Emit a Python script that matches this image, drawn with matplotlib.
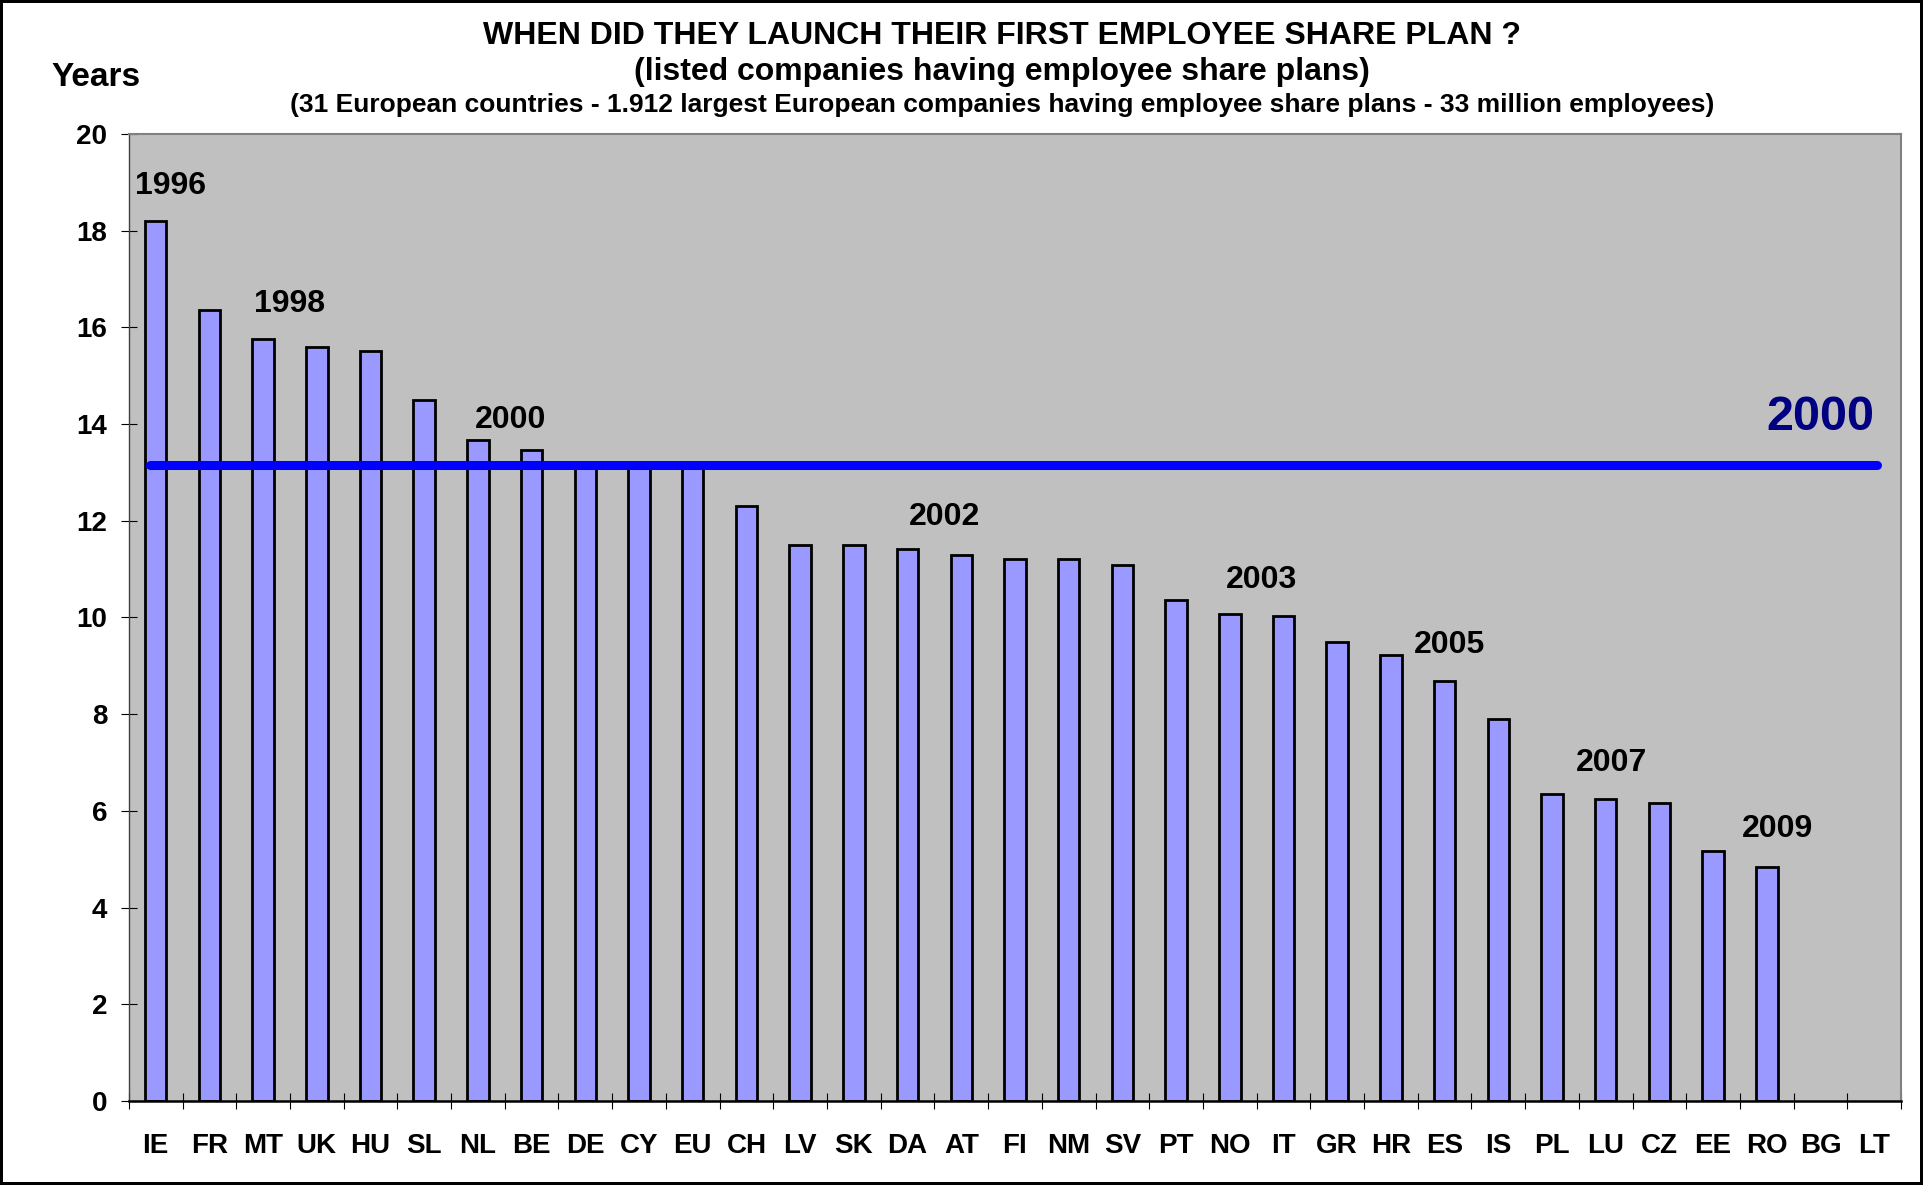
import numpy as np
import matplotlib.pyplot as plt

plt.rcParams['font.family'] = ['Liberation Sans', 'DejaVu Sans']
plt.rcParams['font.weight'] = 'bold'

# data
countries = ['IE', 'FR', 'MT', 'UK', 'HU', 'SL', 'NL', 'BE', 'DE', 'CY', 'EU',
             'CH', 'LV', 'SK', 'DA', 'AT', 'FI', 'NM', 'SV', 'PT', 'NO', 'IT',
             'GR', 'HR', 'ES', 'IS', 'PL', 'LU', 'CZ', 'EE', 'RO', 'BG', 'LT']
years = [18.2, 16.35, 15.75, 15.6, 15.5, 14.5, 13.67, 13.47, 13.2, 13.2, 13.15,
         12.3, 11.5, 11.5, 11.42, 11.3, 11.2, 11.2, 11.08, 10.37, 10.08, 10.02,
         9.5, 9.22, 8.68, 7.9, 6.35, 6.25, 6.17, 5.17, 4.83, 0, 0]
average = 13.15  # EU average -> 2000
avg_label = '2000'

# year markers written above the bars
marker_text = ['1996', '1998', '2000', '2002', '2003', '2005', '2007', '2009']
marker_x = [0.27, 2.5, 6.6, 14.68, 20.6, 24.1, 27.1, 30.2]
marker_y = [18.93, 16.48, 14.08, 12.08, 10.78, 9.43, 6.98, 5.63]

fig = plt.figure(figsize=(19.23, 11.85), dpi=100)
fig.patch.set_edgecolor('black')
fig.patch.set_linewidth(3)
ax = fig.add_axes([0.067, 0.0709, 0.9216, 0.8161])
ax.set_facecolor('#C0C0C0')

x = np.arange(len(countries))
edges = ['black' if v > 0 else 'none' for v in years]
ax.bar(x, years, width=0.4, color='#9999FF', edgecolor=edges, linewidth=2, zorder=2)

# average line
ax.plot([x[0] - 0.1, x[-1] + 0.05], [average, average], color='#0000FF',
        linewidth=6.5, solid_capstyle='round', zorder=3)
ax.text(31.0, average + 0.98, avg_label, color='#000080', fontsize=35,
        fontweight='bold', ha='center', va='center', zorder=4)

for t, tx, ty in zip(marker_text, marker_x, marker_y):
    ax.text(tx, ty, t, fontsize=23, fontweight='bold', ha='center', va='center', zorder=4)

ax.set_xlim(-0.5, len(countries) - 0.5)
ax.set_ylim(0, 20)
ax.set_yticks(np.arange(0, 21, 2))
ax.set_xticks(x)
ax.set_xticklabels(countries)
ax.set_xticks(np.arange(-0.5, len(countries), 1), minor=True)
ax.tick_params(axis='x', which='major', length=0, pad=23, labelsize=20)
ax.tick_params(axis='x', which='minor', direction='inout', length=11, width=0.8)
ax.tick_params(axis='y', direction='inout', length=11, width=0.8, pad=10, labelsize=20)

for s in ['top', 'right']:
    ax.spines[s].set_color('#808080')
    ax.spines[s].set_linewidth(1.5)
ax.spines['left'].set_color('#404040')
ax.spines['left'].set_linewidth(1)
ax.spines['bottom'].set_color('black')
ax.spines['bottom'].set_linewidth(1.8)

fig.text(0.521, 0.970, 'WHEN DID THEY LAUNCH THEIR FIRST EMPLOYEE SHARE PLAN ?',
         ha='center', va='center', fontsize=23, fontweight='bold')
fig.text(0.521, 0.939, '(listed companies having employee share plans)',
         ha='center', va='center', fontsize=23, fontweight='bold')
fig.text(0.521, 0.911, '(31 European countries - 1.912 largest European companies having '
         'employee share plans - 33 million employees)',
         ha='center', va='center', fontsize=19, fontweight='bold')
fig.text(0.0268, 0.935, 'Years', ha='left', va='center', fontsize=24, fontweight='bold')

fig.savefig('out.png', dpi=100, edgecolor=fig.get_edgecolor())
